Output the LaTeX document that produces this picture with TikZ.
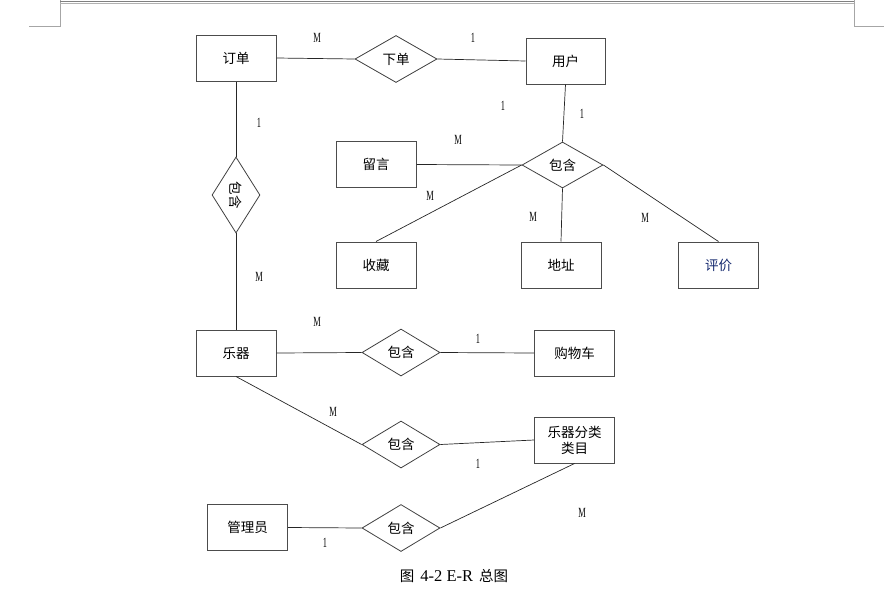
\documentclass[tikz,border=0pt]{standalone}
\usepackage{fontspec}
\setmainfont{Liberation Serif}
\newfontfamily\cjk{Noto Sans CJK SC}
\usetikzlibrary{shapes.geometric}
\tikzset{
 ent/.style={draw=black!70, line width=1pt, minimum width=80pt, minimum height=46pt, inner sep=0pt, font=\cjk\fontsize{13.5}{16}\selectfont, align=center},
 rel/.style={diamond, draw=black!75, line width=0.8pt, minimum width=80pt, minimum height=47pt, inner sep=0pt, font=\cjk\fontsize{13.5}{16}\selectfont},
 con/.style={draw=black!85, line width=0.7pt},
 card/.style={font=\fontsize{14}{14}\selectfont, inner sep=0pt}
}
\newcommand\cardtxt[1]{\scalebox{0.6}[1]{#1}}
\begin{document}
\begin{tikzpicture}[x=1pt,y=-1pt]
\useasboundingbox (0,0) rectangle (884,603);
% page marks
\draw[gray!70, line width=0.6pt] (29,26) -- (60,26) -- (60,0);
\draw[gray!70, line width=0.6pt] (884,26) -- (854,26) -- (854,0);
\draw[gray, line width=1pt] (60,1) -- (854,1);
\draw[gray!60, line width=0.6pt] (60,3.2) -- (854,3.2);
% entities and relations
\node[ent] (dingdan) at (236,58) {订单};
\node[rel, minimum width=82pt] (xiadan) at (396,59) {下单};
\node[ent, minimum width=79pt] (yonghu) at (565.5,61) {用户};
\node[rel, minimum width=81pt, minimum height=46pt] (bh1) at (562.5,165) {包含};
\node[ent] (liuyan) at (376,164.5) {留言};
\node[ent] (shoucang) at (376,265) {收藏};
\node[ent] (dizhi) at (561,265) {地址};
\node[ent, text={rgb,255:red,20;green,40;blue,110}] (pingjia) at (718.5,265) {评价};
\node[rel, minimum width=48pt, minimum height=76pt] (bh0) at (236,195) {\rotatebox{-90}{包含}};
\node[ent] (yueqi) at (236,353) {乐器};
\node[rel, minimum width=78pt] (bh2) at (401,352.5) {包含};
\node[ent] (gouwuche) at (574.5,353) {购物车};
\node[rel, minimum width=78pt] (bh3) at (401,444.5) {包含};
\node[ent] (fenlei) at (574.5,440) {乐器分类\\类目};
\node[ent] (guanli) at (247.5,527.5) {管理员};
\node[rel, minimum width=78pt] (bh4) at (401,528) {包含};
% connectors
\draw[con] (dingdan.east) -- (xiadan.west);
\draw[con] (xiadan.east) -- (yonghu.west);
\draw[con] (dingdan.south) -- (bh0.north);
\draw[con] (bh0.south) -- (yueqi.north);
\draw[con] (yonghu.south) -- (bh1.north);
\draw[con] (liuyan.east) -- (bh1.west);
\draw[con] (bh1.west) -- (shoucang.north);
\draw[con] (bh1.south) -- (dizhi.north);
\draw[con] (bh1.east) -- (pingjia.north);
\draw[con] (yueqi.east) -- (bh2.west);
\draw[con] (bh2.east) -- (gouwuche.west);
\draw[con] (yueqi.south) -- (bh3.west);
\draw[con] (bh3.east) -- (fenlei.west);
\draw[con] (guanli.east) -- (bh4.west);
\draw[con] (bh4.east) -- (fenlei.south);
% cardinalities
\node[card] (c1) at (317,38) {\cardtxt{M}};
\node[card] (c2) at (473,38) {\cardtxt{1}};
\node[card] (c3) at (503,106) {\cardtxt{1}};
\node[card] (c4) at (582,114) {\cardtxt{1}};
\node[card] (c5) at (259,123) {\cardtxt{1}};
\node[card] (c6) at (458,140) {\cardtxt{M}};
\node[card] (c7) at (430,196) {\cardtxt{M}};
\node[card] (c8) at (533,217) {\cardtxt{M}};
\node[card] (c9) at (645,218) {\cardtxt{M}};
\node[card] (c10) at (259,277) {\cardtxt{M}};
\node[card] (c11) at (317,322) {\cardtxt{M}};
\node[card] (c12) at (478,339) {\cardtxt{1}};
\node[card] (c13) at (333,412) {\cardtxt{M}};
\node[card] (c14) at (478,464) {\cardtxt{1}};
\node[card] (c15) at (582,513) {\cardtxt{M}};
\node[card] (c16) at (325,543) {\cardtxt{1}};
% caption
\node[font=\fontsize{16.5}{16.5}\selectfont, inner sep=0pt] (cap) at (454,576) {{\cjk\fontsize{14.5}{16}\selectfont 图}\hspace{2pt} 4-2 E-R\hspace{2pt} {\cjk\fontsize{14.5}{16}\selectfont 总图}};
\end{tikzpicture}
\end{document}
